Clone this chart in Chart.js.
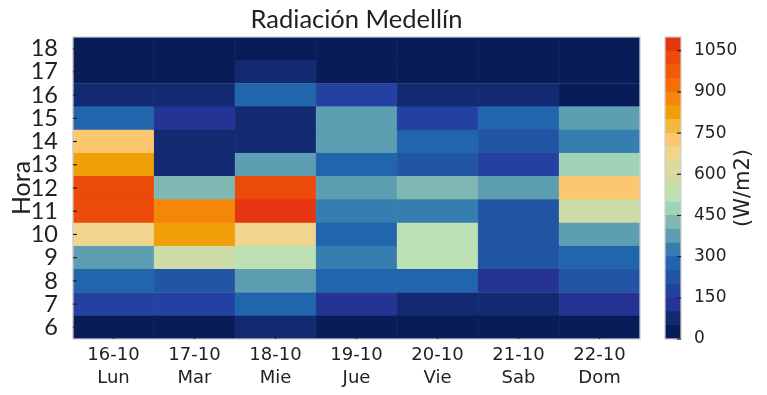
<!DOCTYPE html>
<html><head><meta charset="utf-8">
<script src="https://cdn.jsdelivr.net/npm/chart.js@4/dist/chart.umd.min.js"></script>
<style>
html,body{margin:0;padding:0;background:#fff;}
#wrap{position:relative;width:767px;height:395px;overflow:hidden;}
#main{position:absolute;left:0;top:0;}
#cb{position:absolute;left:640px;top:0;}
</style></head><body>
<div id="wrap">
<canvas id="main" width="767" height="395"></canvas>
<canvas id="cb" width="127" height="395"></canvas>
</div>
<script>
// ---- data ----
const dayDates = ["16-10","17-10","18-10","19-10","20-10","21-10","22-10"];
const dayNames = ["Lun","Mar","Mie","Jue","Vie","Sab","Dom"];
const hours = [6,7,8,9,10,11,12,13,14,15,16,17,18];
// W/m2 per hour (6..18)
const lun = [20,175,275,375,675,1025,1025,825,725,275,75,20,20];
const mar = [20,175,225,575,825,875,425,75,75,125,75,20,20];
const mie = [75,275,375,525,675,1075,1025,375,75,75,275,75,20];
const jue = [20,125,275,325,275,325,375,275,375,375,175,20,20];
const vie = [20,75,275,525,525,325,425,225,275,175,75,20,20];
const sab = [20,75,125,225,225,225,375,175,225,275,75,20,20];
const dom = [20,125,225,275,375,575,725,475,325,375,20,20,20];
// colour scale
const levelBounds = [0,50,100,150,200,250,300,350,400,450,500,550,600,650,700,750,800,850,900,950,1000,1050,1100];
const levelColors = ['#081d58','#132a72','#253494','#2341a0','#2355a5','#2166ac','#377eb0','#5e9eb2','#7fb8b2','#a0d3b8','#bde0b4','#cddca6','#dfd99b','#f0d591','#fcc86f','#f4b63c','#f09f08','#f4870a','#f66f06','#f05a08','#ec4a0a','#e4350f'];
const cbTicks = [0,150,300,450,600,750,900,1050];

const series = [lun,mar,mie,jue,vie,sab,dom];
function colorFor(v){
  for(let i=0;i<levelColors.length;i++){ if(v>=levelBounds[i] && v<levelBounds[i+1]) return levelColors[i]; }
  return levelColors[levelColors.length-1];
}
const lato = "Lato,'Liberation Sans',sans-serif";
const dejavu = "'DejaVu Sans',sans-serif";

const frame = {
  id:'frame',
  afterDraw(chart, args, opts){
    const {ctx, chartArea:a} = chart;
    ctx.save();
    ctx.strokeStyle = '#cfcfcf'; ctx.lineWidth = 1.2;
    ctx.strokeRect(a.left, a.top, a.right-a.left, a.bottom-a.top);
    ctx.strokeStyle = '#222'; ctx.lineWidth = 1.2;
    if (opts.yTicksLeft) {
      const ys = chart.scales.y;
      ys.ticks.forEach(t=>{ const p = ys.getPixelForValue(t.value); ctx.beginPath(); ctx.moveTo(a.left, p); ctx.lineTo(a.left+4, p); ctx.stroke(); });
    }
    if (opts.yTicksRight) {
      const ys = chart.scales.y;
      ys.ticks.forEach(t=>{ const p = ys.getPixelForValue(t.value); ctx.beginPath(); ctx.moveTo(a.right-4, p); ctx.lineTo(a.right, p); ctx.stroke(); });
    }
    if (opts.xTicks) {
      const xs = chart.scales.x;
      xs.ticks.forEach((t,i)=>{ const p = xs.getPixelForTick(i); ctx.beginPath(); ctx.moveTo(p, a.bottom); ctx.lineTo(p, a.bottom-4); ctx.stroke(); });
    }
    if (opts.unit) {
      ctx.fillStyle = '#222';
      ctx.font = "21px " + dejavu;
      ctx.textAlign = 'center'; ctx.textBaseline = 'middle';
      ctx.translate(a.right + 63, (a.top+a.bottom)/2);
      ctx.rotate(-Math.PI/2);
      ctx.fillText(opts.unit, 0, 0);
    }
    ctx.restore();
  }
};

const datasets = hours.map((h, hi) => ({
  label: String(h),
  data: series.map(() => [h-0.5, h+0.5]),
  backgroundColor: series.map(s => colorFor(s[hi])),
  borderColor: series.map(s => colorFor(s[hi])),
  borderWidth: 0.5,
  borderSkipped: false,
  grouped: false,
  barPercentage: 1,
  categoryPercentage: 1
}));

new Chart(document.getElementById('main'), {
  type: 'bar',
  data: { labels: dayDates.map((d,i)=>[d, dayNames[i]]), datasets },
  options: {
    responsive: false, animation: false,
    layout: { padding: { left: 0, right: 127, top: 0, bottom: 0 } },
    plugins: {
      legend: { display: false }, tooltip: { enabled: false },
      title: { display: true, text: 'Radiación Medellín', fullSize: false, color: '#222',
        font: { family: lato, size: 25.5, weight: 'normal', lineHeight: 1.2 }, padding: { top: 4, bottom: 2.4 } },
      frame: { yTicksLeft: true, xTicks: true }
    },
    scales: {
      x: {
        type: 'category', z: 1,
        grid: { offset: true, color: '#e8e8e8', lineWidth: 1.5, drawTicks: false },
        border: { display: false },
        ticks: { font: { family: dejavu, size: 18, lineHeight: 1.28 }, color: '#222', padding: 5, maxRotation: 0, autoSkip: false },
        afterFit(s){ s.height = 56; }
      },
      y: {
        type: 'linear', min: 5.5, max: 18.5,
        afterBuildTicks(s){ s.ticks = hours.map(h => ({ value: h })); },
        grid: { display: false }, border: { display: false },
        ticks: { font: { family: lato, size: 23.5, weight: 'normal' }, color: '#222', padding: 7, autoSkip: false },
        title: { display: true, text: 'Hora', color: '#222', font: { family: lato, size: 25, weight: 'normal' }, padding: { top: 7, bottom: 0 } },
        afterFit(s){ s.width = 73; }
      }
    }
  },
  plugins: [frame]
});

const cbSets = levelColors.map((c, i) => ({
  data: [[levelBounds[i], levelBounds[i+1]]],
  backgroundColor: c, borderColor: c, borderWidth: 0.5, borderSkipped: false,
  grouped: false, barPercentage: 1, categoryPercentage: 1
}));

new Chart(document.getElementById('cb'), {
  type: 'bar',
  data: { labels: [''], datasets: cbSets },
  options: {
    responsive: false, animation: false,
    layout: { padding: { left: 25, right: 0, top: 37, bottom: 56 } },
    plugins: { legend: { display: false }, tooltip: { enabled: false }, title: { display: false },
      frame: { yTicksRight: true, unit: '(W/m2)' } },
    scales: {
      x: { display: false },
      y: {
        position: 'right', min: 0, max: 1100,
        afterBuildTicks(s){ s.ticks = cbTicks.map(v => ({ value: v })); },
        grid: { display: false }, border: { display: false },
        ticks: { font: { family: dejavu, size: 17 }, color: '#222', padding: 5, autoSkip: false, callback: v => String(v) },
        afterFit(s){ s.width = 86; }
      }
    }
  },
  plugins: [frame]
});
</script>
</body></html>
